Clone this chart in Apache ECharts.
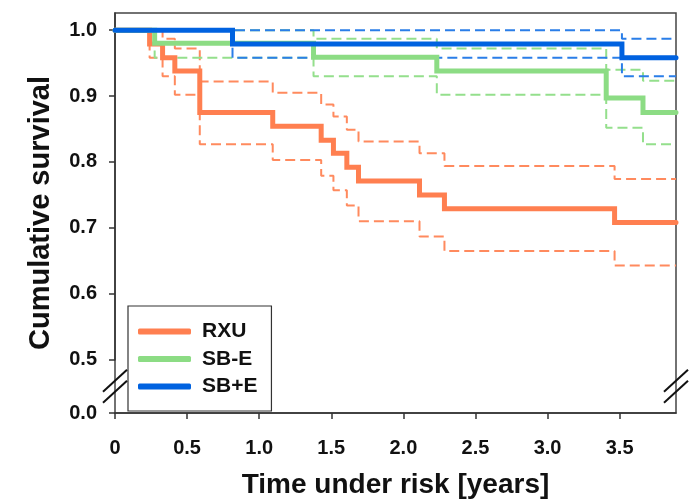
<!DOCTYPE html>
<html>
<head>
<meta charset="utf-8">
<script src="https://cdn.jsdelivr.net/npm/echarts@6/dist/echarts.min.js"></script>
<style>
  html, body { margin: 0; padding: 0; background: #fff; }
  #chart { width: 694px; height: 504px; }
</style>
</head>
<body>
<div id="chart"></div>
<script>
// Kaplan-Meier steps: time (years) where each level starts, survival and 95% CI
const tEnd = 3.891;

const rxuT  = [0, 0.24, 0.33, 0.415, 0.588, 1.094, 1.43, 1.515, 1.608, 1.689, 2.112, 2.285, 3.465];
const rxuS  = [1, 0.979, 0.958, 0.938, 0.875, 0.854, 0.833, 0.813, 0.792, 0.771, 0.750, 0.729, 0.708];
const rxuHi = [1, 1, 0.987, 0.972, 0.922, 0.905, 0.887, 0.869, 0.849, 0.831, 0.813, 0.794, 0.774];
const rxuLo = [1, 0.958, 0.930, 0.902, 0.827, 0.803, 0.779, 0.757, 0.734, 0.710, 0.687, 0.665, 0.643];

const sbmT  = [0, 0.275, 1.377, 2.232, 3.407, 3.662];
const sbmS  = [1, 0.980, 0.959, 0.938, 0.897, 0.875];
const sbmHi = [1, 1, 0.987, 0.972, 0.940, 0.923];
const sbmLo = [1, 0.958, 0.930, 0.902, 0.852, 0.827];

const sbpT  = [0, 0.815, 3.516];
const sbpS  = [1, 0.979, 0.958];
const sbpHi = [1, 1, 0.987];
const sbpLo = [1, 0.958, 0.930];

const groups = ['RXU', 'SB-E', 'SB+E'];
const colors = ['#ff7f50', '#8cdc84', '#0062e0'];
const ciColors = ['#ff8a5e', '#94df8c', '#2a7ee8'];

const FONT = '"Liberation Sans", Arial, sans-serif';

function steps(ts, vs) {
  const pts = ts.map((t, i) => [t, vs[i]]);
  pts.push([tEnd, vs[vs.length - 1]]);
  return pts;
}

function solid(name, ts, vs, color, z) {
  return {
    name: name, type: 'line', step: 'end', data: steps(ts, vs),
    showSymbol: false, symbol: 'none', z: z,
    lineStyle: { color: color, width: 5, cap: 'round', join: 'miter' },
    itemStyle: { color: color }
  };
}

function dashed(name, ts, vs, color, z) {
  return {
    name: name, type: 'line', step: 'end', data: steps(ts, vs),
    showSymbol: false, symbol: 'none', z: z,
    lineStyle: { color: color, width: 2, type: [10, 5] }
  };
}

const chart = echarts.init(document.getElementById('chart'));

const option = {
  animation: false,
  backgroundColor: '#fff',
  grid: {
    left: 115, right: 18, top: 13, bottom: 88,
    show: true, borderColor: '#444', borderWidth: 1.5
  },
  legend: {
    data: groups,
    left: 128, top: 306,
    orient: 'vertical',
    padding: [15, 14, 14, 10],
    itemGap: 6.5,
    icon: 'roundRect',
    itemWidth: 53, itemHeight: 6,
    borderColor: '#333', borderWidth: 1.2,
    textStyle: { fontFamily: FONT, fontSize: 21, fontWeight: 'bold', color: '#111', padding: [0, 0, 0, 6] }
  },
  xAxis: {
    type: 'value', min: 0, max: tEnd, interval: 0.5,
    splitLine: { show: false },
    axisLine: { show: true, onZero: false, lineStyle: { color: '#333', width: 1.5 } },
    axisTick: { show: true, inside: false, length: 6, lineStyle: { color: '#333', width: 1.5 } },
    axisLabel: {
      margin: 25, showMaxLabel: false,
      fontFamily: FONT, fontSize: 20, fontWeight: 'bold', color: '#111',
      formatter: v => (v === 0 ? '0' : v.toFixed(1))
    },
    name: 'Time under risk [years]',
    nameLocation: 'middle', nameGap: 58,
    nameTextStyle: { fontFamily: FONT, fontSize: 28, fontWeight: 'bold', color: '#111' }
  },
  yAxis: {
    type: 'value', min: 0, max: 1.026, interval: 0.1,
    breaks: [{ start: 0, end: 0.5, gap: 0.081 }],
    breakArea: { show: false, expandOnClick: false },
    splitLine: { show: false },
    axisLine: { show: true, lineStyle: { color: '#333', width: 1.5 } },
    axisTick: { show: true, inside: false, length: 6, lineStyle: { color: '#333', width: 1.5 } },
    axisLabel: {
      margin: 18, showMaxLabel: false,
      fontFamily: FONT, fontSize: 20, fontWeight: 'bold', color: '#111',
      formatter: v => v.toFixed(1)
    },
    name: 'Cumulative survival',
    nameLocation: 'middle', nameGap: 60,
    nameTextStyle: { fontFamily: FONT, fontSize: 29, fontWeight: 'bold', color: '#111' }
  },
  series: [
    dashed('RXU upper', rxuT, rxuHi, ciColors[0], 2),
    dashed('RXU lower', rxuT, rxuLo, ciColors[0], 2),
    dashed('SB-E upper', sbmT, sbmHi, ciColors[1], 2),
    dashed('SB-E lower', sbmT, sbmLo, ciColors[1], 2),
    dashed('SB+E upper', sbpT, sbpHi, ciColors[2], 2),
    dashed('SB+E lower', sbpT, sbpLo, ciColors[2], 2),
    solid('RXU', rxuT, rxuS, colors[0], 3),
    solid('SB-E', sbmT, sbmS, colors[1], 4),
    solid('SB+E', sbpT, sbpS, colors[2], 5)
  ]
};

chart.setOption(option);

// axis break marks "//" on the left and right frame
const yBot = chart.convertToPixel({ yAxisIndex: 0 }, 0);
const yTop = chart.convertToPixel({ yAxisIndex: 0 }, 0.5);
const yMid = (yBot + yTop) / 2;
const xL = chart.convertToPixel({ xAxisIndex: 0 }, 0);
const xR = chart.convertToPixel({ xAxisIndex: 0 }, tEnd);
const marks = [];
[xL, xR].forEach(x => {
  [-5.5, 5.5].forEach(dy => {
    marks.push({
      type: 'line', z: 100,
      shape: { x1: x - 12, y1: yMid + dy + 11, x2: x + 12, y2: yMid + dy - 11 },
      style: { stroke: '#111', lineWidth: 2 }
    });
  });
});
chart.setOption({ graphic: marks });
</script>
</body>
</html>
